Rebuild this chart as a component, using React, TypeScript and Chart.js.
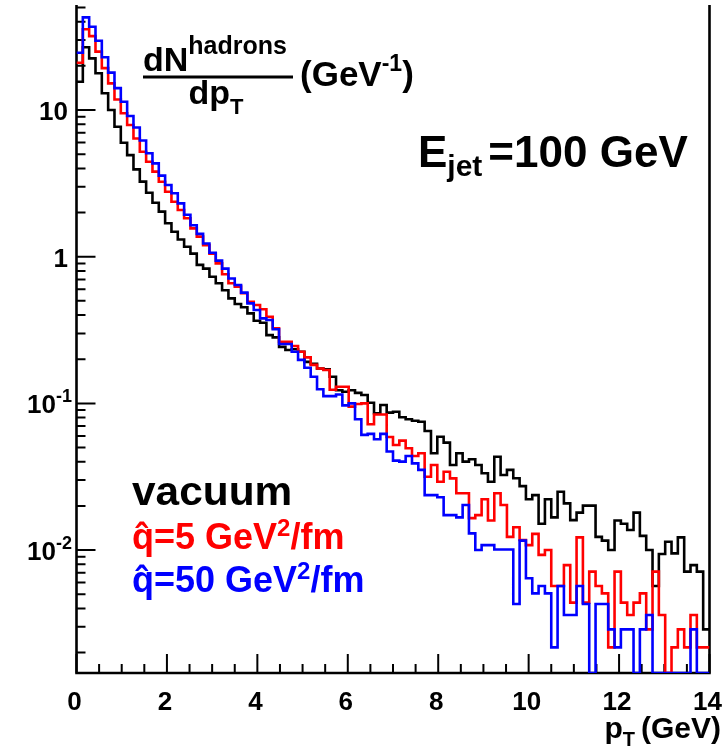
import { useEffect, useRef } from "react";
import { Chart, registerables } from "chart.js";

Chart.register(...registerables);

// ---------- data ----------
const BIN_WIDTH = 0.14; // 100 bins from 0 to 14 GeV
const X_MIN = 0;
const X_MAX = 14;
const Y_MIN = 1.452e-3;
const Y_MAX = 52;

const vacuum = [
  15.6, 26.8, 22.5, 17.8, 13.0, 10.0, 7.7, 5.98, 4.93, 3.94,
  3.25, 2.73, 2.33, 2.03, 1.69, 1.48, 1.31, 1.17, 1.05, 0.88,
  0.83, 0.73, 0.66, 0.59, 0.52, 0.476, 0.452, 0.411, 0.366, 0.355,
  0.292, 0.282, 0.243, 0.231, 0.234, 0.225, 0.192, 0.186, 0.173, 0.171,
  0.152, 0.123, 0.12, 0.123, 0.118, 0.114, 0.101, 0.0856, 0.0975, 0.0865,
  0.0878, 0.0804, 0.078, 0.0762, 0.075, 0.0648, 0.0457, 0.0593, 0.054, 0.038,
  0.0457, 0.0401, 0.0416, 0.038, 0.0334, 0.0292, 0.0433, 0.0325, 0.0352, 0.0309,
  0.0273, 0.0222, 0.0237, 0.0151, 0.0222, 0.0167, 0.025, 0.0208, 0.016, 0.018,
  0.0201, 0.0201, 0.0123, 0.0116, 0.01, 0.0159, 0.0151, 0.0137, 0.018, 0.0125,
  0.01, 0.00569, 0.0094, 0.0114, 0.0095, 0.0122, 0.00713, 0.0079, 0.00713, 0.00288,
];

const qhat5 = [
  21.0, 35.5, 31.9, 25.0, 19.3, 15.2, 11.8, 9.5, 7.9, 6.4,
  5.2, 4.44, 3.8, 3.24, 2.77, 2.37, 2.08, 1.83, 1.56, 1.37,
  1.2, 1.05, 0.9, 0.76, 0.66, 0.625, 0.563, 0.493, 0.469, 0.438,
  0.39, 0.325, 0.263, 0.263, 0.246, 0.225, 0.206, 0.183, 0.173, 0.169,
  0.124, 0.13, 0.13, 0.095, 0.099, 0.1, 0.072, 0.084, 0.084, 0.059,
  0.052, 0.0557, 0.0494, 0.0438, 0.0457, 0.0316, 0.038, 0.0292, 0.0342, 0.0308,
  0.0244, 0.0244, 0.0165, 0.0173, 0.0222, 0.0159, 0.0244, 0.0203, 0.0123, 0.0143,
  0.0117, 0.0108, 0.0129, 0.00927, 0.01, 0.00569, 0.00569, 0.0079, 0.00438, 0.0122,
  0.00438, 0.00713, 0.00569, 0.00507, 0.00217, 0.00713, 0.00438, 0.00361, 0.00438, 0.00507,
  0.00288, 0.00713, 0.00361, 0, 0.00217, 0.00288, 0.00217, 0.00361, 0.00217, 0.00217,
];

const qhat50 = [
  24.6, 42.8, 37.0, 29.7, 22.9, 18.0, 14.1, 11.4, 9.1, 7.6,
  6.2, 5.07, 4.33, 3.57, 3.08, 2.71, 2.31, 1.93, 1.64, 1.43,
  1.23, 1.065, 0.94, 0.83, 0.71, 0.641, 0.569, 0.481, 0.433, 0.38,
  0.37, 0.32, 0.254, 0.254, 0.225, 0.198, 0.175, 0.152, 0.125, 0.112,
  0.112, 0.115, 0.097, 0.1, 0.078, 0.061, 0.062, 0.057, 0.062, 0.047,
  0.0407, 0.0401, 0.0438, 0.039, 0.0352, 0.0237, 0.0237, 0.0229, 0.0173, 0.0173,
  0.0167, 0.0203, 0.013, 0.01, 0.0108, 0.0108, 0.0101, 0.0101, 0.0101, 0.00429,
  0.0116, 0.00642, 0.00507, 0.00569, 0.00507, 0.00217, 0.00569, 0.00361, 0.00361, 0.00569,
  0.00429, 0, 0.00429, 0.00429, 0.00288, 0.00217, 0.00288, 0.00288, 0, 0.00288,
  0.00361, 0, 0, 0, 0, 0, 0, 0.00288, 0, 0,
];

const X_TICK_VALUES = [0, 2, 4, 6, 8, 10, 12, 14];
const X_TICK_LABELS = ["0", "2", "4", "6", "8", "10", "12", "14"];
const X_MINOR_STEP = 0.5;
const Y_TICK_VALUES = [0.01, 0.1, 1, 10];
const Y_TICK_BASES = ["10", "10", "1", "10"];
const Y_TICK_EXPONENTS = ["-2", "-1", "", ""];

const SERIES_LABELS = ["vacuum", "q\u0302=5 GeV", "q\u0302=50 GeV"];
const COLORS = ["#000000", "#ff0000", "#0000ff"];

// ---------- helpers ----------
const FONT = '"Liberation Sans", Arial, Helvetica, sans-serif';

function histPoints(values: number[]) {
  const pts: { x: number; y: number }[] = [];
  values.forEach((v, i) => {
    const y = v > 0 ? v : Y_MIN; // empty bins sit on the axis floor, as in ROOT
    pts.push({ x: X_MIN + i * BIN_WIDTH, y });
    pts.push({ x: X_MIN + (i + 1) * BIN_WIDTH, y });
  });
  return pts;
}

type Run = { t: string; size: number; dy?: number; gap?: number };

function runsWidth(ctx: CanvasRenderingContext2D, runs: Run[]) {
  let w = 0;
  for (const r of runs) {
    ctx.font = `bold ${r.size}px ${FONT}`;
    w += ctx.measureText(r.t).width + (r.gap || 0);
  }
  return w;
}

function drawRuns(
  ctx: CanvasRenderingContext2D,
  runs: Run[],
  x: number,
  y: number,
  align: "left" | "right" | "center",
  color: string,
  sx = 1
) {
  const total = runsWidth(ctx, runs) * sx;
  const x0 = align === "left" ? x : align === "right" ? x - total : x - total / 2;
  ctx.save();
  ctx.translate(x0, y);
  ctx.scale(sx, 1);
  ctx.fillStyle = color;
  ctx.textAlign = "left";
  ctx.textBaseline = "alphabetic";
  let cx = 0;
  for (const r of runs) {
    ctx.font = `bold ${r.size}px ${FONT}`;
    ctx.fillText(r.t, cx, r.dy || 0);
    cx += ctx.measureText(r.t).width + (r.gap || 0);
  }
  ctx.restore();
}

const rootStylePlugin = {
  id: "rootStyle",
  beforeDatasetsDraw(chart: any) {
    const { ctx, chartArea } = chart;
    const xs = chart.scales.x;
    const ys = chart.scales.y;
    const { left, right, top, bottom } = chartArea;
    ctx.save();
    ctx.strokeStyle = "#000";
    ctx.lineWidth = 2.6;
    ctx.beginPath();
    ctx.moveTo(left, top);
    ctx.lineTo(left, bottom);
    ctx.lineTo(right, bottom);
    ctx.lineTo(right, top);
    ctx.stroke();

    // x ticks (inside)
    ctx.lineWidth = 2;
    ctx.beginPath();
    for (let v = X_MIN; v <= X_MAX + 1e-9; v += X_MINOR_STEP) {
      const px = xs.getPixelForValue(v);
      const major = X_TICK_VALUES.some((t) => Math.abs(t - v) < 1e-6);
      const len = major ? 19 : 9;
      ctx.moveTo(px, bottom);
      ctx.lineTo(px, bottom - len);
    }
    // y ticks (inside)
    for (let d = -4; d <= 2; d++) {
      for (let m = 1; m <= 9; m++) {
        const v = m * Math.pow(10, d);
        if (v < Y_MIN || v > Y_MAX) continue;
        const py = ys.getPixelForValue(v);
        const len = m === 1 ? 19 : 9;
        ctx.moveTo(left, py);
        ctx.lineTo(left + len, py);
      }
    }
    ctx.stroke();
    ctx.restore();
  },
  afterDraw(chart: any) {
    const { ctx } = chart;
    const xs = chart.scales.x;
    const ys = chart.scales.y;
    ctx.save();

    // x tick labels
    X_TICK_VALUES.forEach((v, i) => {
      drawRuns(ctx, [{ t: X_TICK_LABELS[i], size: 26 }], xs.getPixelForValue(v) - 2, 710, "center", "#000");
    });
    // y tick labels
    Y_TICK_VALUES.forEach((v, i) => {
      const py = ys.getPixelForValue(v);
      const runs: Run[] = [{ t: Y_TICK_BASES[i], size: 26 }];
      const hasExp = !!Y_TICK_EXPONENTS[i];
      if (hasExp) runs.push({ t: Y_TICK_EXPONENTS[i], size: 18, dy: -11 });
      drawRuns(ctx, runs, hasExp ? 72 : 68, py + 10, "right", "#000");
    });

    // x axis title
    drawRuns(
      ctx,
      [
        { t: "p", size: 30 },
        { t: "T", size: 20, dy: 8, gap: 6 },
        { t: "(GeV)", size: 30 },
      ],
      721,
      738,
      "right",
      "#000"
    );

    // y axis title as a fraction
    drawRuns(ctx, [{ t: "dN", size: 34 }, { t: "hadrons", size: 25, dy: -17 }], 143, 71, "left", "#000");
    ctx.fillStyle = "#000";
    ctx.fillRect(143, 75.5, 150, 3);
    drawRuns(ctx, [{ t: "dp", size: 34 }, { t: "T", size: 22, dy: 10 }], 216, 104, "center", "#000");
    drawRuns(
      ctx,
      [
        { t: "(GeV", size: 35 },
        { t: "-1", size: 23, dy: -15 },
        { t: ")", size: 35 },
      ],
      300,
      86,
      "left",
      "#000"
    );

    // E_jet annotation
    drawRuns(
      ctx,
      [
        { t: "E", size: 44 },
        { t: "jet", size: 30, dy: 9, gap: 6 },
        { t: "=100 GeV", size: 44 },
      ],
      418,
      167,
      "left",
      "#000"
    );

    // legend texts
    drawRuns(ctx, [{ t: SERIES_LABELS[0], size: 40 }], 132, 505, "left", COLORS[0], 1.06);
    drawRuns(
      ctx,
      [
        { t: SERIES_LABELS[1], size: 36 },
        { t: "2", size: 24, dy: -13 },
        { t: "/fm", size: 36 },
      ],
      132,
      549,
      "left",
      COLORS[1]
    );
    drawRuns(
      ctx,
      [
        { t: SERIES_LABELS[2], size: 36 },
        { t: "2", size: 24, dy: -13 },
        { t: "/fm", size: 36 },
      ],
      132,
      592,
      "left",
      COLORS[2]
    );
    ctx.restore();
  },
};

export default function App() {
  const ref = useRef<HTMLCanvasElement>(null);
  useEffect(() => {
    if (!ref.current) return;
    const mk = (values: number[], color: string, order: number, label: string) => ({
      label,
      data: histPoints(values),
      borderColor: color,
      backgroundColor: color,
      borderWidth: 2.6,
      pointRadius: 0,
      pointHoverRadius: 0,
      tension: 0,
      fill: false,
      order,
    });
    const chart = new Chart(ref.current, {
      type: "line",
      data: {
        datasets: [
          mk(vacuum, COLORS[0], 2, SERIES_LABELS[0]),
          mk(qhat5, COLORS[1], 1, SERIES_LABELS[1]),
          mk(qhat50, COLORS[2], 0, SERIES_LABELS[2]),
        ],
      },
      options: {
        responsive: false,
        animation: false,
        devicePixelRatio: 1,
        layout: { padding: { left: 76.5, right: 15.5, top: 5, bottom: 76 } },
        scales: {
          x: { type: "linear", min: X_MIN, max: X_MAX, display: false },
          y: { type: "logarithmic", min: Y_MIN, max: Y_MAX, display: false },
        },
        plugins: { legend: { display: false }, tooltip: { enabled: false } },
        events: [],
      },
      plugins: [rootStylePlugin],
    } as any);
    return () => chart.destroy();
  }, []);
  return (
    <div style={{ position: "absolute", left: 0, top: 0, width: 725, height: 749, background: "#fff" }}>
      <canvas ref={ref} width={725} height={749} style={{ display: "block", width: 725, height: 749 }} />
    </div>
  );
}
